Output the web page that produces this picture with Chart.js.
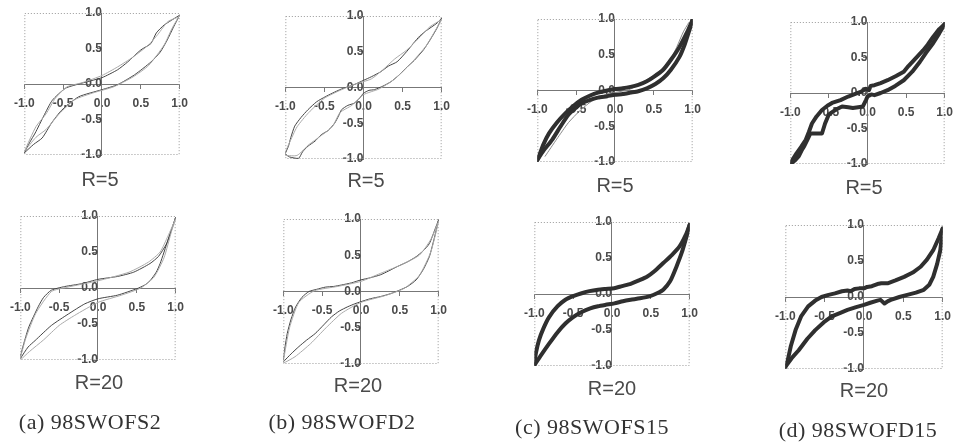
<!DOCTYPE html>
<html>
<head>
<meta charset="utf-8">
<script src="https://cdn.jsdelivr.net/npm/chart.js@4.4.1/dist/chart.umd.min.js"></script>
<style>
  html, body { margin: 0; padding: 0; background: #fff; }
  body { width: 959px; height: 445px; position: relative; overflow: hidden; }
  .plot { position: absolute; }
  .rlab { position: absolute; font-family: 'Liberation Sans', Arial, sans-serif; font-size: 20px; color: #4a4a4a;
          transform: translate(-50%, -50%); white-space: nowrap; }
  .cap  { position: absolute; font-family: 'Liberation Serif', 'Times New Roman', serif; font-size: 22px; color: #333;
          letter-spacing: 0.5px; transform: translate(-50%, -50%); white-space: nowrap; }
</style>
</head>
<body>
<script>
/* ── tick labels (same on every panel) ── */
const tickVals = [-1, -0.5, 0, 0.5, 1];
const tickText = ['-1.0', '-0.5', '0.0', '0.5', '1.0'];

/* ── (a) 98SWOFS2 ── */
const aR5Down  = [[1,0.97],[0.8,0.83],[0.7,0.72],[0.63,0.57],[0.5,0.48],[0.33,0.31],[0.2,0.2],[0,0.09],[-0.3,0],[-0.47,-0.06],[-0.64,-0.23],[-0.75,-0.45],[-0.86,-0.69],[-0.93,-0.82],[-1,-0.97]];
const aR5Up    = [[-1,-0.97],[-0.88,-0.85],[-0.77,-0.76],[-0.65,-0.55],[-0.52,-0.37],[-0.3,-0.18],[0,-0.08],[0.2,-0.01],[0.42,0.13],[0.63,0.31],[0.75,0.45],[0.84,0.62],[0.92,0.8],[1,0.97]];
const aR5Down2 = [[1,0.95],[0.85,0.88],[0.72,0.7],[0.6,0.55],[0.4,0.38],[0.2,0.24],[0,0.12],[-0.25,0.02],[-0.45,-0.04],[-0.6,-0.2],[-0.72,-0.42],[-0.85,-0.6],[-1,-0.95]];
const aR5Up2   = [[-1,-0.95],[-0.85,-0.75],[-0.72,-0.64],[-0.55,-0.42],[-0.35,-0.22],[-0.1,-0.12],[0.15,-0.04],[0.4,0.1],[0.6,0.26],[0.8,0.55],[0.9,0.78],[1,0.97]];

const aR20Down  = [[1,0.98],[0.95,0.82],[0.88,0.61],[0.78,0.44],[0.67,0.34],[0.46,0.22],[0.25,0.16],[0,0.12],[-0.21,0.06],[-0.43,0.02],[-0.6,-0.03],[-0.7,-0.13],[-0.77,-0.26],[-0.89,-0.54],[-0.95,-0.75],[-1,-0.95]];
const aR20Up    = [[-1,-0.98],[-0.9,-0.82],[-0.81,-0.73],[-0.6,-0.52],[-0.38,-0.36],[-0.17,-0.22],[0,-0.15],[0.25,-0.1],[0.5,-0.01],[0.6,0.04],[0.67,0.1],[0.75,0.22],[0.8,0.34],[0.9,0.66],[1,0.98]];
const aR20Down2 = [[1,0.96],[0.9,0.72],[0.8,0.5],[0.65,0.36],[0.4,0.22],[0,0.1],[-0.4,0.01],[-0.6,-0.05],[-0.8,-0.35],[-0.93,-0.7],[-1,-0.97]];
const aR20Up2   = [[-1,-1],[-0.88,-0.88],[-0.7,-0.72],[-0.5,-0.52],[-0.3,-0.38],[0,-0.2],[0.3,-0.1],[0.55,0],[0.72,0.15],[0.85,0.42],[0.95,0.8],[1,0.96]];

/* ── (b) 98SWOFD2 ── */
const bR5Down  = [[1,0.97],[0.94,0.9],[0.81,0.8],[0.72,0.72],[0.64,0.62],[0.55,0.5],[0.43,0.36],[0.32,0.3],[0.22,0.22],[0.1,0.15],[0,0.1],[-0.12,0.04],[-0.28,-0.02],[-0.4,-0.08],[-0.49,-0.13],[-0.6,-0.2],[-0.71,-0.31],[-0.8,-0.42],[-0.88,-0.54],[-0.93,-0.7],[-0.96,-0.82],[-1,-0.92]];
const bR5Up    = [[-1,-0.93],[-0.95,-0.97],[-0.83,-0.99],[-0.78,-0.9],[-0.71,-0.82],[-0.62,-0.75],[-0.54,-0.66],[-0.45,-0.6],[-0.37,-0.5],[-0.32,-0.4],[-0.28,-0.31],[-0.2,-0.25],[-0.12,-0.22],[-0.05,-0.15],[0,-0.08],[0.07,-0.04],[0.14,-0.03],[0.25,0.02],[0.35,0.08],[0.45,0.17],[0.56,0.29],[0.65,0.38],[0.77,0.53],[0.86,0.68],[0.94,0.83],[1,0.97]];
const bR5Down2 = [[1,0.95],[0.85,0.85],[0.7,0.68],[0.55,0.52],[0.4,0.4],[0.25,0.25],[0.1,0.12],[-0.1,0.05],[-0.3,-0.04],[-0.5,-0.15],[-0.7,-0.35],[-0.85,-0.55],[-0.95,-0.78],[-1,-0.9]];
const bR5Up2   = [[-1,-0.95],[-0.85,-0.95],[-0.7,-0.8],[-0.55,-0.68],[-0.4,-0.55],[-0.3,-0.35],[-0.15,-0.25],[0,-0.1],[0.2,-0.02],[0.4,0.12],[0.6,0.33],[0.8,0.58],[0.92,0.8],[1,0.95]];

const bR20Down  = [[1,0.99],[0.95,0.85],[0.88,0.66],[0.8,0.56],[0.71,0.48],[0.6,0.41],[0.46,0.34],[0.35,0.28],[0.25,0.23],[0.12,0.19],[0,0.16],[-0.12,0.12],[-0.25,0.09],[-0.35,0.07],[-0.46,0.06],[-0.57,0.03],[-0.67,0],[-0.76,-0.08],[-0.84,-0.21],[-0.9,-0.38],[-0.95,-0.58],[-0.98,-0.78],[-1,-0.94]];
const bR20Up    = [[-1,-0.97],[-0.9,-0.86],[-0.8,-0.76],[-0.7,-0.67],[-0.59,-0.58],[-0.48,-0.46],[-0.38,-0.35],[-0.28,-0.27],[-0.17,-0.21],[-0.08,-0.17],[0,-0.14],[0.12,-0.1],[0.25,-0.07],[0.38,-0.03],[0.5,0.02],[0.6,0.07],[0.71,0.16],[0.8,0.3],[0.88,0.48],[0.94,0.72],[1,0.99]];
const bR20Down2 = [[1,0.97],[0.9,0.72],[0.75,0.5],[0.5,0.36],[0.25,0.25],[0,0.14],[-0.3,0.07],[-0.6,0.01],[-0.8,-0.15],[-0.92,-0.5],[-1,-0.96]];
const bR20Up2   = [[-1,-0.99],[-0.85,-0.9],[-0.65,-0.72],[-0.45,-0.5],[-0.25,-0.3],[0,-0.15],[0.3,-0.06],[0.55,0.04],[0.75,0.22],[0.9,0.55],[1,0.97]];

/* ── (c) 98SWOFS15 ── */
const cR5Down = [[1,0.99],[0.93,0.82],[0.83,0.61],[0.72,0.43],[0.62,0.29],[0.5,0.19],[0.41,0.13],[0.3,0.08],[0.2,0.05],[0.1,0.03],[0,0.02],[-0.1,0],[-0.22,-0.03],[-0.32,-0.07],[-0.43,-0.13],[-0.54,-0.22],[-0.64,-0.32],[-0.75,-0.45],[-0.85,-0.6],[-0.92,-0.75],[-0.98,-0.92],[-1,-0.97]];
const cR5Up   = [[-1,-0.97],[-0.92,-0.84],[-0.81,-0.69],[-0.7,-0.5],[-0.6,-0.34],[-0.5,-0.24],[-0.43,-0.18],[-0.32,-0.13],[-0.22,-0.1],[-0.1,-0.08],[0,-0.06],[0.1,-0.05],[0.2,-0.03],[0.3,-0.01],[0.41,0.03],[0.52,0.09],[0.62,0.17],[0.72,0.29],[0.83,0.47],[0.9,0.65],[0.96,0.85],[1,0.99]];
const cR5Thin = [[-0.9,-0.92],[-0.75,-0.68],[-0.6,-0.45],[-0.45,-0.28],[-0.3,-0.15],[-0.1,-0.05],[0.2,0.02],[0.55,0.25],[0.7,0.4],[0.8,0.62],[0.88,0.82],[0.95,0.95]];

const cR20Down = [[1,0.96],[0.95,0.82],[0.87,0.66],[0.77,0.54],[0.66,0.43],[0.55,0.32],[0.45,0.24],[0.35,0.19],[0.24,0.14],[0.13,0.11],[0.03,0.08],[-0.08,0.07],[-0.18,0.06],[-0.29,0.04],[-0.39,0.01],[-0.5,-0.03],[-0.6,-0.08],[-0.7,-0.17],[-0.81,-0.32],[-0.88,-0.47],[-0.94,-0.64],[-0.98,-0.82],[-1,-0.97]];
const cR20Up   = [[-1,-0.99],[-0.92,-0.86],[-0.81,-0.69],[-0.7,-0.53],[-0.6,-0.41],[-0.5,-0.32],[-0.39,-0.25],[-0.28,-0.2],[-0.18,-0.17],[-0.08,-0.15],[0.03,-0.13],[0.14,-0.1],[0.24,-0.08],[0.36,-0.06],[0.49,-0.03],[0.58,0.01],[0.66,0.06],[0.75,0.18],[0.83,0.38],[0.9,0.58],[0.96,0.8],[1,0.96]];

/* ── (d) 98SWOFD15 ── */
const dR5Down = [[1,0.97],[0.93,0.9],[0.85,0.79],[0.78,0.68],[0.72,0.6],[0.66,0.53],[0.6,0.46],[0.53,0.38],[0.47,0.3],[0.37,0.24],[0.26,0.18],[0.17,0.14],[0.09,0.11],[0.04,0.1],[0.02,0.04],[-0.02,0.06],[-0.08,0.02],[-0.15,-0.01],[-0.25,-0.05],[-0.35,-0.1],[-0.46,-0.14],[-0.52,-0.18],[-0.59,-0.24],[-0.66,-0.33],[-0.72,-0.43],[-0.76,-0.55],[-0.8,-0.66],[-0.86,-0.76],[-0.92,-0.85],[-0.96,-0.92],[-1,-0.99]];
const dR5Up   = [[-1,-1],[-0.94,-0.95],[-0.89,-0.89],[-0.85,-0.8],[-0.82,-0.75],[-0.78,-0.66],[-0.74,-0.57],[-0.66,-0.57],[-0.59,-0.57],[-0.55,-0.43],[-0.5,-0.3],[-0.42,-0.24],[-0.33,-0.19],[-0.25,-0.2],[-0.19,-0.21],[-0.12,-0.2],[-0.06,-0.19],[-0.02,-0.1],[0,-0.05],[0.05,-0.02],[0.09,-0.03],[0.17,0],[0.26,0.04],[0.36,0.1],[0.47,0.18],[0.58,0.3],[0.68,0.44],[0.76,0.57],[0.85,0.7],[0.93,0.84],[1,0.97]];

const dR20Down = [[1,0.95],[0.95,0.82],[0.88,0.65],[0.8,0.52],[0.72,0.42],[0.62,0.34],[0.51,0.28],[0.4,0.23],[0.3,0.19],[0.22,0.19],[0.17,0.18],[0.1,0.15],[0.04,0.14],[0,0.12],[-0.06,0.12],[-0.12,0.11],[-0.17,0.08],[-0.21,0.09],[-0.28,0.08],[-0.37,0.05],[-0.45,0.03],[-0.54,0],[-0.62,-0.05],[-0.71,-0.13],[-0.8,-0.27],[-0.87,-0.46],[-0.93,-0.68],[-0.97,-0.88],[-1,-0.97]];
const dR20Up   = [[-1,-0.97],[-0.92,-0.85],[-0.83,-0.74],[-0.72,-0.58],[-0.62,-0.46],[-0.51,-0.35],[-0.41,-0.27],[-0.3,-0.22],[-0.21,-0.18],[-0.1,-0.14],[0,-0.11],[0.08,-0.08],[0.17,-0.05],[0.21,-0.04],[0.26,-0.09],[0.3,-0.06],[0.34,-0.04],[0.45,0],[0.55,0.03],[0.66,0.06],[0.76,0.1],[0.83,0.17],[0.88,0.28],[0.93,0.46],[0.97,0.65],[1,0.95]];

/* ── layout: plot boxes [left, top, right, bottom] and label spots ── */
const PAD = 16;
const thin  = (data, color) => ({ data, w: 1, color, tension: 0.2 });
const thick = (data, tension) => ({ data, w: 4, color: '#2f2f2f', tension });

const panels = [
  { box: [22, 13, 180, 155],  label: 'R=5',  lab: [100, 179], sets: [thin(aR5Down2, '#aaa'), thin(aR5Up2, '#aaa'), thin(aR5Down, '#444'), thin(aR5Up, '#444')] },
  { box: [283, 16, 442, 159], label: 'R=5',  lab: [366, 180], sets: [thin(bR5Down2, '#aaa'), thin(bR5Up2, '#aaa'), thin(bR5Down, '#444'), thin(bR5Up, '#444')] },
  { box: [535, 19, 693, 162], label: 'R=5',  lab: [615, 185], sets: [thick(cR5Down, 0.2), thick(cR5Up, 0.2), thin(cR5Thin, '#888')] },
  { box: [788, 22, 945, 164], label: 'R=5',  lab: [864, 187], sets: [thick(dR5Down, 0), thick(dR5Up, 0)] },
  { box: [18, 216, 176, 360], label: 'R=20', lab: [99, 382],  sets: [thin(aR20Down2, '#aaa'), thin(aR20Up2, '#aaa'), thin(aR20Down, '#444'), thin(aR20Up, '#444')] },
  { box: [281, 219, 439, 364], label: 'R=20', lab: [358, 385], sets: [thin(bR20Down2, '#aaa'), thin(bR20Up2, '#aaa'), thin(bR20Down, '#444'), thin(bR20Up, '#444')] },
  { box: [532, 222, 690, 366], label: 'R=20', lab: [612, 388], sets: [thick(cR20Down, 0.2), thick(cR20Up, 0.2)] },
  { box: [783, 225, 943, 369], label: 'R=20', lab: [864, 390], sets: [thick(dR20Down, 0), thick(dR20Up, 0)] }
];

const captions = [
  { text: '(a) 98SWOFS2',  at: [90, 422] },
  { text: '(b) 98SWOFD2',  at: [342, 422] },
  { text: '(c) 98SWOFS15', at: [592, 427] },
  { text: '(d) 98SWOFD15', at: [858, 430] }
];

// dotted frame round the plot area
const frame = {
  id: 'frame',
  beforeDatasetsDraw(chart) {
    const { ctx, chartArea: a } = chart;
    ctx.save();
    ctx.strokeStyle = '#999';
    ctx.lineWidth = 1;
    ctx.setLineDash([1, 2]);
    ctx.strokeRect(a.left + 0.5, a.top + 0.5, a.right - a.left - 1, a.bottom - a.top - 1);
    ctx.restore();
  }
};

const tickFont = { family: "'Liberation Sans', Arial, sans-serif", size: 12, weight: 'bold' };

function axis(pos, pad) {
  return {
    type: 'linear', min: -1, max: 1, position: pos,
    afterBuildTicks: s => { s.ticks = tickVals.map(v => ({ value: v })); },
    ticks: { callback: (v, i) => tickText[i], font: tickFont, color: '#4a4a4a', padding: pad, maxRotation: 0, autoSkip: false },
    grid: { drawOnChartArea: false, drawTicks: true, tickLength: 4, color: '#777' },
    border: { color: '#777', width: 1 }
  };
}

panels.forEach(p => {
  const [l, t, r, b] = p.box;
  const wrap = document.createElement('div');
  wrap.className = 'plot';
  wrap.style.left = (l - PAD) + 'px';
  wrap.style.top  = (t - PAD) + 'px';
  const cv = document.createElement('canvas');
  cv.width  = r - l + 2 * PAD;
  cv.height = b - t + 2 * PAD;
  wrap.appendChild(cv);
  document.body.appendChild(wrap);

  new Chart(cv.getContext('2d'), {
    type: 'scatter',
    data: {
      datasets: p.sets.map(s => ({
        data: s.data, showLine: true, pointRadius: 0,
        borderColor: s.color, borderWidth: s.w, tension: s.tension,
        borderJoinStyle: 'round', borderCapStyle: 'round'
      }))
    },
    options: {
      responsive: false, animation: false, events: [],
      layout: { padding: PAD },
      plugins: { legend: { display: false }, tooltip: { enabled: false } },
      scales: { x: axis({ y: 0 }, 8), y: axis({ x: 0 }, 3) }
    },
    plugins: [frame]
  });

  const lab = document.createElement('div');
  lab.className = 'rlab';
  lab.textContent = p.label;
  lab.style.left = p.lab[0] + 'px';
  lab.style.top  = p.lab[1] + 'px';
  document.body.appendChild(lab);
});

captions.forEach(c => {
  const el = document.createElement('div');
  el.className = 'cap';
  el.textContent = c.text;
  el.style.left = c.at[0] + 'px';
  el.style.top  = c.at[1] + 'px';
  document.body.appendChild(el);
});
</script>
</body>
</html>
